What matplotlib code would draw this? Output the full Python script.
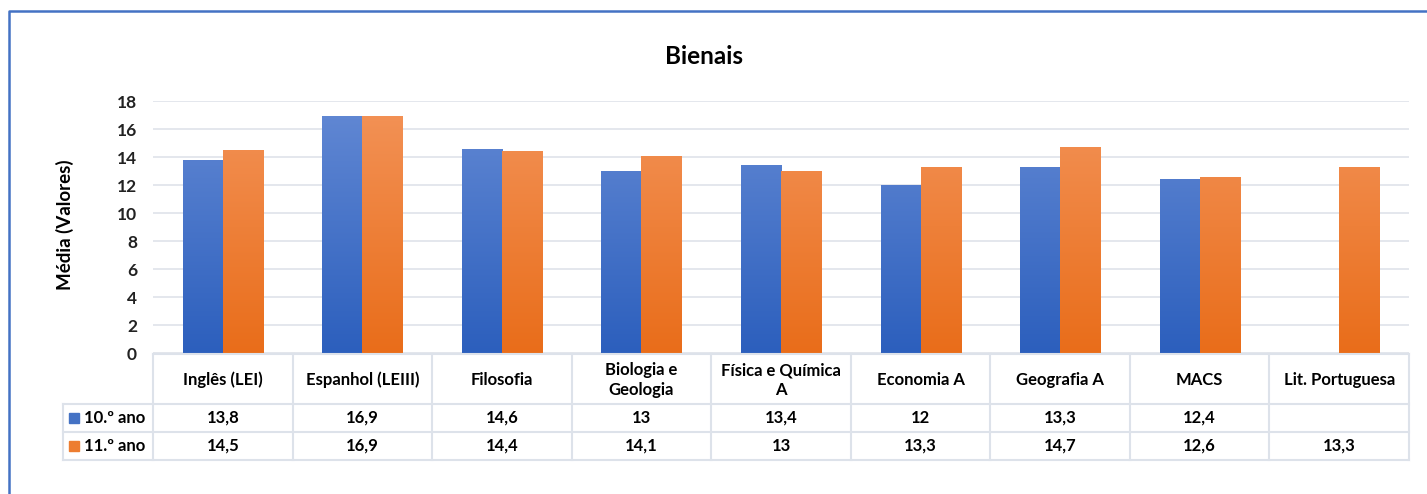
import numpy as np
import matplotlib
matplotlib.use('Agg')
import matplotlib.pyplot as plt
from matplotlib.lines import Line2D
from matplotlib.patches import Rectangle
from matplotlib.colors import LinearSegmentedColormap

categories = ['Inglês (LEI)', 'Espanhol (LEIII)', 'Filosofia', 'Biologia e\nGeologia',
              'Física e Química\nA', 'Economia A', 'Geografia A', 'MACS', 'Lit. Portuguesa']
ano10 = [13.8, 16.9, 14.6, 13.0, 13.4, 12.0, 13.3, 12.4, np.nan]
ano11 = [14.5, 16.9, 14.4, 14.1, 13.0, 13.3, 14.7, 12.6, 13.3]
ano10_txt = ['13,8', '16,9', '14,6', '13', '13,4', '12', '13,3', '12,4', '']
ano11_txt = ['14,5', '16,9', '14,4', '14,1', '13', '13,3', '14,7', '12,6', '13,3']
series = ['10.º ano', '11.º ano']
yticks = [0, 2, 4, 6, 8, 10, 12, 14, 16, 18]

plt.rcParams['font.family'] = ['Lato', 'DejaVu Sans']
W, H = 1427, 494
fig = plt.figure(figsize=(W / 100, H / 100), dpi=100)


def fx(px):
    return px / W


def fy(py):
    return 1 - py / H


# plot area in pixel coords
x0, x1, ytop, ybot = 153, 1409, 101, 353
ax = fig.add_axes([fx(x0), fy(ybot), fx(x1) - fx(x0), fy(ytop) - fy(ybot)])
n = len(categories)
ax.set_xlim(0, n)
ax.set_ylim(0, 18)
ax.set_yticks(yticks)
ax.set_yticklabels([str(t) for t in yticks], fontsize=12.5, fontweight='bold', color='#222222')
ax.tick_params(axis='y', length=0, pad=11.5)
ax.set_xticks([])
for s in ax.spines.values():
    s.set_visible(False)
ax.grid(axis='y', color='#dfe3ea', lw=1.2)
ax.set_axisbelow(True)
fig.text(fx(65), fy(225), 'Média (Valores)', rotation=90, ha='center', va='center',
         fontsize=13.5, fontweight='bold')

blue = LinearSegmentedColormap.from_list('b', ['#2c5fbd', '#6389d4'])
orange = LinearSegmentedColormap.from_list('o', ['#e96d1a', '#f39358'])
bw = 0.287
x = np.arange(n) + 0.5
grad = np.linspace(0, 1, 256).reshape(-1, 1)
for vals, off, cmap in ((ano10, -bw / 2, blue), (ano11, bw / 2, orange)):
    bars = ax.bar(x + off, vals, bw, color='none', edgecolor='none')
    for b in bars:
        h = b.get_height()
        if not np.isfinite(h) or h <= 0:
            continue
        bx = b.get_x()
        im = ax.imshow(grad, cmap=cmap, origin='lower', aspect='auto',
                       extent=[bx, bx + bw, 0, 18], zorder=2)
        im.set_clip_path(b)
ax.set_xlim(0, n)
ax.set_ylim(0, 18)

fig.text(fx(704), fy(57), 'Bienais', ha='center', va='center', fontsize=17.5, fontweight='bold')

# data table
gc = '#dde2ea'
cw = (x1 - x0) / n
rows = [354, 404, 432, 460]
lines = []
lines.append(((x0, x1), (rows[0], rows[0])))
for r in rows[1:]:
    lines.append(((63, x1), (r, r)))
lines.append(((63, 63), (rows[1], rows[3])))
for i in range(n + 1):
    lines.append(((x0 + i * cw, x0 + i * cw), (rows[0], rows[3])))
for (xs, ys) in lines:
    fig.add_artist(Line2D([fx(v) for v in xs], [fy(v) for v in ys], color=gc, lw=1.5))

fs = 12
for i, c in enumerate(categories):
    cx = x0 + (i + 0.5) * cw
    fig.text(fx(cx), fy((rows[0] + rows[1]) / 2 + 1), c, ha='center', va='center',
             fontsize=fs, fontweight='bold', linespacing=1.25)
    fig.text(fx(cx), fy((rows[1] + rows[2]) / 2), ano10_txt[i], ha='center', va='center',
             fontsize=fs, fontweight='bold')
    fig.text(fx(cx), fy((rows[2] + rows[3]) / 2), ano11_txt[i], ha='center', va='center',
             fontsize=fs, fontweight='bold')

for k, (lab, col) in enumerate(zip(series, ['#4472c4', '#ed7d31'])):
    yc = (rows[1 + k] + rows[2 + k]) / 2
    fig.add_artist(Rectangle((fx(69), fy(yc + 5)), fx(10), fy(0) - fy(10), color=col))
    fig.text(fx(84), fy(yc), lab, ha='left', va='center', fontsize=fs, fontweight='bold')

# chart border (right and bottom edges are cut off in the image)
fig.add_artist(Line2D([fx(9), fx(9), fx(1427)], [fy(494), fy(11), fy(11)],
                      color='#4472c4', lw=1.8))

fig.savefig('out.png', dpi=100)
